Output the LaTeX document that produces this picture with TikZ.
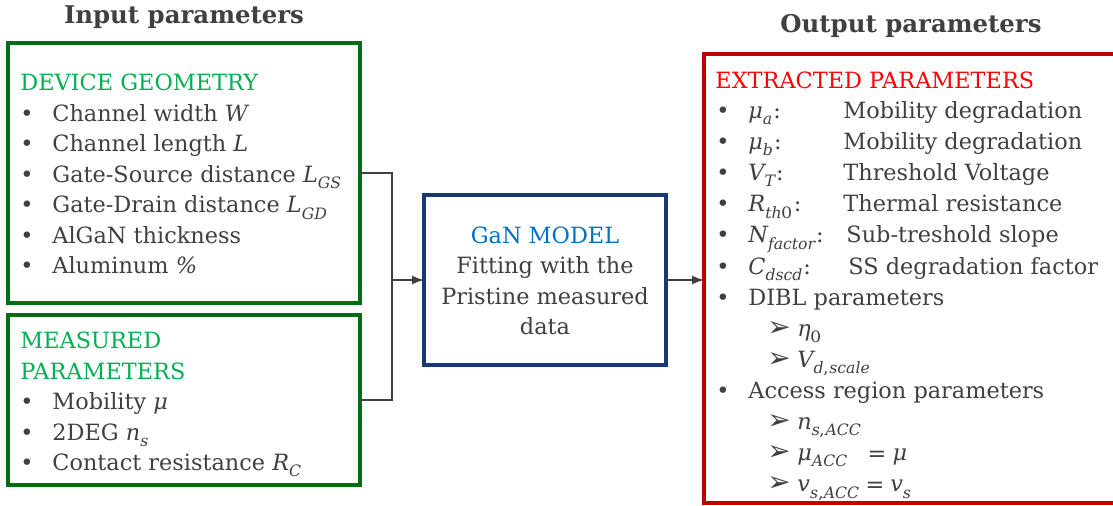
\documentclass[tikz,border=0pt]{standalone}
\usepackage{fontspec}
\usepackage{unicode-math}
\setmainfont{DejaVu Serif}
\setmathfont{DejaVu Math TeX Gyre}
\setmathfont[range=it]{DejaVu Serif Italic}
\newfontfamily\dingfont{DejaVu Sans}
\usetikzlibrary{positioning,arrows.meta}

\definecolor{txtgray}{RGB}{64,64,64}
\definecolor{boxgreen}{RGB}{0,110,20}
\definecolor{headgreen}{RGB}{0,176,80}
\definecolor{boxblue}{RGB}{25,55,115}
\definecolor{headblue}{RGB}{0,112,192}
\definecolor{boxred}{RGB}{192,0,0}
\definecolor{headred}{RGB}{255,0,0}

\newcommand{\blt}{\makebox[16pt][l]{•}}
\newcommand{\arw}{\makebox[15pt][l]{\dingfont\fontsize{14}{15}\selectfont ➢}}

\begin{document}
\begin{tikzpicture}[x=0.5pt, y=-0.5pt,
  font=\fontsize{11.2}{15}\selectfont, text=txtgray,
  inbox/.style={draw=boxgreen, line width=2pt, anchor=north west,
                minimum width=176pt, inner sep=0pt, outer sep=0pt},
  ganbox/.style={draw=boxblue, line width=2pt, anchor=north west,
                 minimum width=121pt, minimum height=85pt, inner sep=0pt, outer sep=0pt},
  outbox/.style={draw=boxred, line width=1.8pt, anchor=north west,
                 minimum width=212pt, minimum height=224.5pt, inner sep=0pt, outer sep=0pt},
  title/.style={font=\fontsize{12.2}{15}\selectfont\bfseries, anchor=base},
  txt/.style={anchor=base west, inner sep=0pt},
  ctr/.style={anchor=base, inner sep=0pt},
  line/.style={draw=txtgray, line width=0.8pt},
  arr/.style={line, -{Latex[length=6pt,width=4.5pt]}}
]
\useasboundingbox (0,0) rectangle (1113,506);

% Titles
\node[title] (intitle)  at (184,24) {Input parameters};
\node[title] (outtitle) at (911,33) {Output parameters};

% Boxes
\node[inbox, minimum height=130pt] (geo)  at (8,43)  {};
\node[inbox, minimum height=85pt]  (meas) at (8,315) {};
\node[ganbox] (gan) at (424,195) {};
\node[outbox] (out) at (704,54) {};

% Device geometry
\node[txt, text=headgreen] (geohead) at (20,90.7) {DEVICE GEOMETRY};
\node[txt] (geo1) at (20,121.2) {\blt Channel width $W$};
\node[txt] (geo2) at (20,151.8) {\blt Channel length $L$};
\node[txt] (geo3) at (20,182.3) {\blt Gate-Source distance $L_{GS}$};
\node[txt] (geo4) at (20,212.9) {\blt Gate-Drain distance $L_{GD}$};
\node[txt] (geo5) at (20,243.4) {\blt AlGaN thickness};
\node[txt] (geo6) at (20,274)   {\blt Aluminum \textit{\%}};

% Measured parameters
\node[txt, text=headgreen] (meashead1) at (20,349)   {MEASURED};
\node[txt, text=headgreen] (meashead2) at (20,379.4) {PARAMETERS};
\node[txt] (meas1) at (20,409.8) {\blt Mobility $\mu$};
\node[txt] (meas2) at (20,440.2) {\blt 2DEG $n_s$};
\node[txt] (meas3) at (20,470.6) {\blt Contact resistance $R_C$};

% GaN model
\node[ctr, text=headblue] (ganhead) at (545,243.3) {GaN MODEL};
\node[ctr] (gan1) at (545,274) {Fitting with the};
\node[ctr] (gan2) at (545,304.5) {Pristine measured};
\node[ctr] (gan3) at (545,335) {data};

% Extracted parameters
\node[txt, text=headred] (outhead) at (715,88.3) {EXTRACTED PARAMETERS};
\node[txt] (out1) at (716,118.6) {\blt $\mu_a$:};
\node[txt] (out2) at (716,149.7) {\blt $\mu_b$:};
\node[txt] (out3) at (716,180.8) {\blt $V_T$:};
\node[txt] (out4) at (716,211.9) {\blt $R_{th0}$:};
\node[txt] (out5) at (716,243)   {\blt $N_{factor}$:};
\node[txt] (out6) at (716,274.1) {\blt $C_{dscd}$:};
\node[txt] (desc1) at (843,118.6) {Mobility degradation};
\node[txt] (desc2) at (843,149.7) {Mobility degradation};
\node[txt] (desc3) at (843,180.8) {Threshold Voltage};
\node[txt] (desc4) at (843,211.9) {Thermal resistance};
\node[txt] (desc5) at (846,243)   {Sub-treshold slope};
\node[txt] (desc6) at (848,274.1) {SS degradation factor};
\node[txt] (out7) at (716,305.2) {\blt DIBL parameters};
\node[txt] (dibl1) at (767,336.3) {\arw $\eta_0$};
\node[txt] (dibl2) at (767,367.4) {\arw $V_{d,scale}$};
\node[txt] (out8) at (716,398.5) {\blt Access region parameters};
\node[txt] (acc1) at (767,429.6) {\arw $n_{s,ACC}$};
\node[txt] (acc2) at (767,460.7) {\arw $\mu_{ACC}\ \ = \mu$};
\node[txt] (acc3) at (767,491.8) {\arw $v_{s,ACC} = v_s$};

% Connectors
\coordinate (join) at (392,280);
\draw[line] (geo.east) -| (join) |- (meas.east);
\draw[arr] (join) -- (join -| gan.west);
\draw[arr] (gan.east) -- (gan.east -| out.west);
\end{tikzpicture}
\end{document}
